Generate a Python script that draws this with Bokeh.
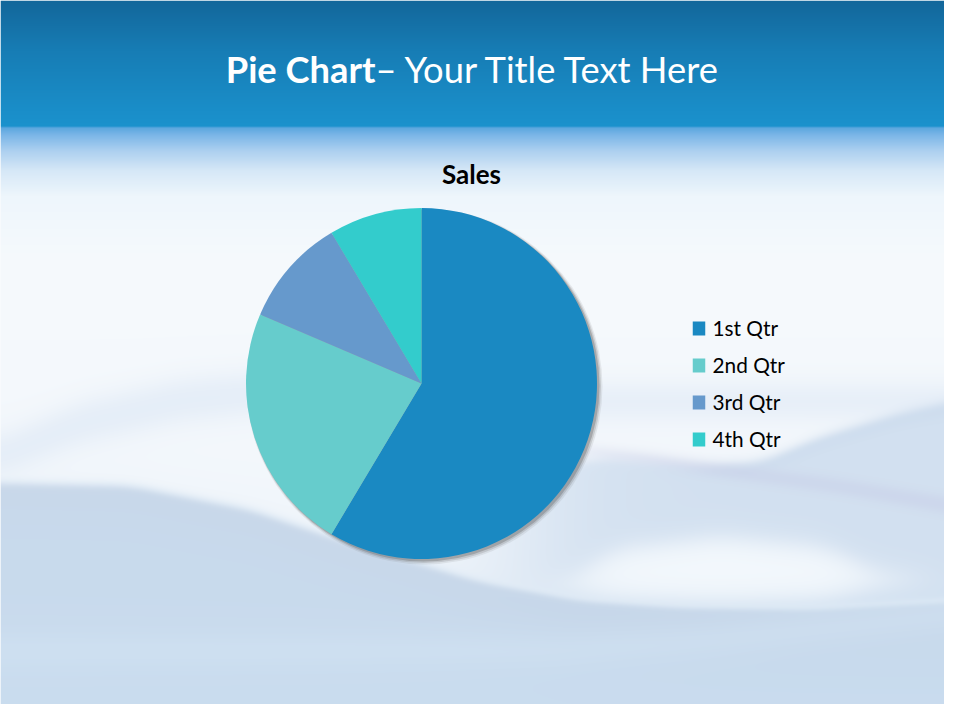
import numpy as np
from bokeh.plotting import figure
from bokeh.models import Range1d
from bokeh.core.properties import value
from bokeh.embed import file_html
from bokeh.resources import INLINE

# ---------------- data ----------------
chart_title = "Sales"
slide_title_bold = "Pie Chart"
slide_title_rest = "\u2013 Your Title Text Here"
categories = ["1st Qtr", "2nd Qtr", "3rd Qtr", "4th Qtr"]
sales = [8.2, 3.2, 1.4, 1.2]
colors = ["#1a89c2", "#66cccc", "#6699cc", "#33cccc"]

FONT = "Lato"
W, H = 960, 720          # slide coordinate system (1 unit = 1 screen px)
FW, FH = 944, 704        # visible part of the slide
BASE_FIX = 0.38          # baseline correction (fraction of font size)


def Y(y):  # slide pixel row -> data y
    return H - y


p = figure(width=FW, height=FH, x_range=Range1d(0, FW), y_range=Range1d(H - FH, H),
           output_backend="svg", toolbar_location=None, min_border=0)
p.axis.visible = False
p.grid.visible = False
p.outline_line_color = None
p.background_fill_color = "#f5f9fd"
p.border_fill_color = "#f5f9fd"


def hexrgb(h):
    h = h.lstrip("#")
    return np.array([int(h[i:i + 2], 16) for i in (0, 2, 4)], float)


# ---------- background (raster decoration) ----------
rows = np.arange(H) + 0.5
colsx = np.arange(W) + 0.5
stops_y = [0, 50, 110, 126, 127, 135, 150, 170, 195, 260, 420, 720]
stops_c = ["#13679b", "#177db5", "#1a8ec9", "#1b92cd", "#5aa6df", "#7db7e8",
           "#acd0f0", "#d6e8f7", "#eef6fc", "#f6fafd", "#f4f8fc", "#eef4fa"]
sc = np.array([hexrgb(c) for c in stops_c])
grad = np.stack([np.interp(rows, stops_y, sc[:, k]) for k in range(3)], 1)
img = np.repeat(grad[:, None, :], W, axis=1)
YY = rows[:, None]
XX = colsx[None, :]


def curve(pts, win=41):
    tx, ty = zip(*pts)
    c = np.interp(colsx, tx, ty)
    pad = win // 2
    cp = np.concatenate([np.full(pad, c[0]), c, np.full(pad, c[-1])])
    return np.convolve(cp, np.ones(win) / win, mode="valid")


def sig(z):
    return 1.0 / (1.0 + np.exp(-z))


def blend(mask, color, alpha):
    global img
    m = (mask * alpha)[:, :, None]
    img = img * (1 - m) + hexrgb(color)[None, None, :] * m


def below(pts, soft):
    return sig((YY - curve(pts)[None, :]) / soft)


def between(top, bot, soft):
    return below(top, soft) * (1 - below(bot, soft))


# faint arc upper left
blend(between([(0, 440), (80, 405), (180, 382), (300, 372), (430, 372), (560, 388)],
              [(0, 470), (80, 440), (180, 418), (300, 406), (430, 402), (560, 414)], 8),
      "#c2d5ee", 0.35)
# right rising wave
right_top = [(470, 478), (600, 458), (700, 466), (760, 462), (820, 437), (900, 413), (960, 400)]
blend(below(right_top, 3) * sig((XX - 520) / 40), "#cfdeef", 0.9)
blend(between(right_top, [(x, y + 10) for x, y in right_top], 3) * sig((XX - 700) / 30),
      "#bfd2e8", 0.35)
# purple-ish thin line
blend(between([(560, 444), (650, 454), (740, 467), (840, 480), (960, 500)],
              [(560, 452), (650, 463), (740, 478), (840, 492), (960, 514)], 3)
      * sig((XX - 580) / 25), "#c6cbe6", 0.5)
# white highlight
blend(between([(560, 580), (620, 548), (720, 536), (820, 546), (880, 570)],
              [(560, 592), (620, 600), (720, 603), (820, 600), (880, 588)], 7)
      * sig((XX - 560) / 20) * sig((900 - XX) / 20),
      "#f7fbfe", 0.9)
# big lower wave
lower_top = [(0, 478), (130, 481), (250, 505), (333, 533), (480, 577), (580, 596),
             (680, 603), (813, 605), (960, 597)]
blend(between(lower_top, [(x, y + 6) for x, y in lower_top], 1.5), "#e9f2fa", 0.7)
blend(below([(x, y + 5) for x, y in lower_top], 2), "#c5d5e8", 0.92)
blend(below([(x, y + 30) for x, y in lower_top], 14), "#c9dcef", 0.6)
blend(below([(0, 640), (300, 650), (600, 668), (960, 672)], 20), "#cbdff1", 0.5)
# diagonal light streaks on the lower right
blend(between([(560, 640), (700, 630), (960, 600)], [(560, 660), (700, 650), (960, 625)], 8),
      "#d8e9f7", 0.5)

img = np.clip(img, 0, 255).astype(np.uint8)
rgba = np.empty((H, W), dtype=np.uint32)
view = rgba.view(dtype=np.uint8).reshape((H, W, 4))
view[:, :, :3] = img
view[:, :, 3] = 255
p.image_rgba(image=[rgba[::-1]], x=0, y=0, dw=W, dh=H)


def base(y, size):
    return Y(y - BASE_FIX * size)


# ---------- title ----------
split_x = 375
TS = 36.3
p.text(x=[split_x], y=[base(82, TS)], text=[slide_title_bold], text_font=value(FONT),
       text_font_style="bold", text_font_size="%.1fpx" % TS, text_color="white",
       text_align="right", text_baseline="alphabetic")
p.text(x=[split_x], y=[base(82, TS)], text=[slide_title_rest], text_font=value(FONT),
       text_font_size="%.1fpx" % TS, text_color="white",
       text_align="left", text_baseline="alphabetic")

CS = 26
p.text(x=[471], y=[base(183.5, CS)], text=[chart_title], text_font=value(FONT),
       text_font_style="bold", text_font_size="%dpx" % CS, text_color="black",
       text_align="center", text_baseline="alphabetic")

# ---------- pie ----------
cx, cy, r = 421, 383, 175.5
for dx, dy, dr, a in [(3, 3, 2.5, 0.10), (2.5, 2.5, 1.5, 0.18), (2, 2, 0.5, 0.3)]:
    p.circle(x=[cx + dx], y=[Y(cy + dy)], radius=r + dr, fill_color="#555555",
             fill_alpha=a, line_color=None)

vals = np.array(sales, float)
cum = np.concatenate([[0], np.cumsum(vals)]) / vals.sum()
starts = np.pi / 2 - 2 * np.pi * cum[:-1]
ends = np.pi / 2 - 2 * np.pi * cum[1:]
p.wedge(x=cx, y=Y(cy), radius=r, start_angle=starts, end_angle=ends,
        direction="clock", fill_color=colors, line_color=None)

# ---------- legend ----------
LS = 20.8
ly = [328 + 37 * i for i in range(len(categories))]
p.rect(x=698.5, y=[Y(v) for v in ly], width=12.5, height=14, fill_color=colors, line_color=None)
p.text(x=712, y=[base(v + 7, LS) for v in ly], text=categories, text_font=value(FONT),
       text_font_size="%.1fpx" % LS, text_color="black", text_align="left",
       text_baseline="alphabetic")

open("out.html", "w").write(file_html(p, INLINE))
